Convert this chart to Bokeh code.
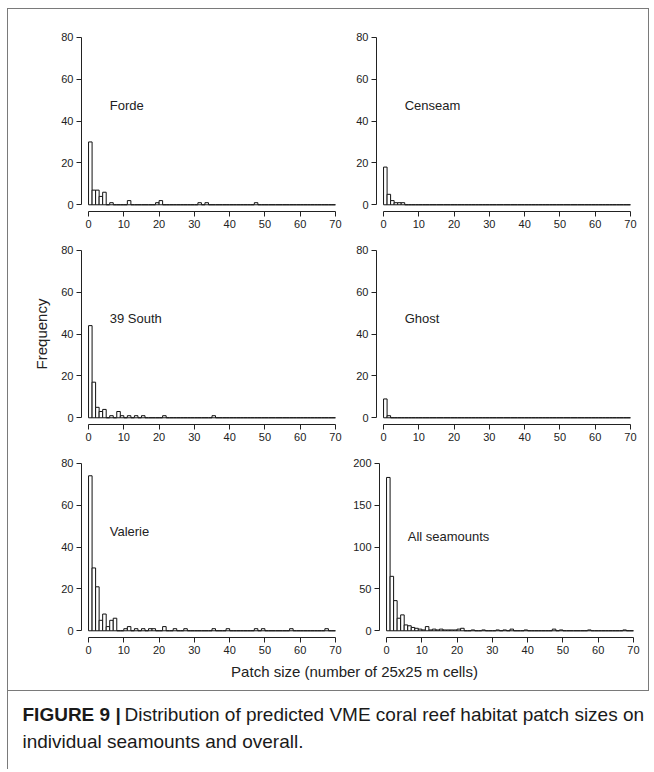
from bokeh.plotting import figure
from bokeh.layouts import column, row
from bokeh.models import Range1d, FixedTicker, Label
from bokeh.embed import file_html
from bokeh.resources import INLINE

# ---- data: patch size (cells) -> frequency, histogram breaks 0..70 step 1 ----
n_bins = 70
x_ticks = [0, 10, 20, 30, 40, 50, 60, 70]
y_ticks_80 = [0, 20, 40, 60, 80]
y_ticks_200 = [0, 50, 100, 150, 200]

forde_size = [1, 2, 3, 4, 5, 7, 12, 20, 21, 32, 34, 48]
forde_count = [30, 7, 7, 4, 6, 1, 2, 1, 2, 1, 1, 1]

censeam_size = [1, 2, 3, 4, 5, 6]
censeam_count = [18, 5, 2, 1, 1, 1]

south39_size = [1, 2, 3, 4, 5, 7, 9, 10, 12, 14, 16, 22, 36]
south39_count = [44, 17, 5, 3, 4, 1, 3, 1, 1, 1, 1, 1, 1]

ghost_size = [1, 2]
ghost_count = [9, 1]

valerie_size = [1, 2, 3, 4, 5, 6, 7, 8, 11, 12, 14, 16, 18, 19, 22, 25, 28,
                36, 40, 48, 50, 58, 68]
valerie_count = [74, 30, 21, 5, 8, 2, 5, 6, 1, 2, 1, 1, 1, 1, 2, 1, 1,
                 1, 1, 1, 1, 1, 1]

all_size = [1, 2, 3, 4, 5, 6, 7, 8, 9, 10, 11, 12, 13, 14, 15, 16, 17, 18,
            19, 20, 21, 22, 25, 28, 32, 34, 36, 40, 48, 50, 58, 68]
all_count = [183, 65, 36, 15, 19, 7, 6, 4, 3, 2, 1, 5, 1, 2, 1, 2, 1, 1,
             1, 1, 2, 3, 1, 1, 1, 1, 2, 1, 2, 1, 1, 1]

panel_names = ["Forde", "Censeam", "39 South", "Ghost", "Valerie", "All seamounts"]

FONT = "Liberation Sans"
INK = "#222222"
INNER_W = 637


def full_counts(sizes, counts):
    c = [0] * n_bins
    for s, n in zip(sizes, counts):
        c[s - 1] = n
    return c


def make_panel(name, sizes, counts, ymax, yticks, label_y, col, rowi, ylabel=None):
    pad = ymax * 0.04
    p = figure(frame_width=261, frame_height=181,
               x_range=Range1d(-2, 72), y_range=Range1d(-pad, ymax + pad),
               min_border_left=73 if col == 0 else 26,
               min_border_right=8,
               min_border_top=21 if rowi == 0 else 8,
               min_border_bottom=24,
               output_backend="svg", toolbar_location=None, tools="")
    p.grid.visible = False
    p.outline_line_color = None
    p.background_fill_color = "white"
    p.border_fill_color = "white"

    c = full_counts(sizes, counts)
    left = list(range(0, n_bins))
    right = list(range(1, n_bins + 1))
    p.quad(left=left, right=right, bottom=0, top=c,
           fill_color="white", line_color="#111111", line_width=1)

    for ax, ticks, bounds in ((p.xaxis, x_ticks, (0, 70)), (p.yaxis, yticks, (0, ymax))):
        ax.ticker = FixedTicker(ticks=ticks)
        ax.bounds = bounds
        ax.major_tick_in = 0
        ax.major_tick_out = 5
        ax.minor_tick_line_color = None
        ax.axis_line_color = INK
        ax.major_tick_line_color = INK
        ax.major_label_text_font = FONT
        ax.major_label_text_font_size = "11px"
        ax.major_label_text_color = INK
        ax.major_label_standoff = 3
    if ylabel:
        p.yaxis.axis_label = ylabel
        p.yaxis.axis_label_text_font = FONT
        p.yaxis.axis_label_text_font_size = "15px"
        p.yaxis.axis_label_text_font_style = "normal"
        p.yaxis.axis_label_text_color = INK
        p.yaxis.axis_label_standoff = 8

    p.add_layout(Label(x=6, y=label_y, text=name, text_font=FONT,
                       text_font_size="13px", text_color=INK,
                       text_align="left", text_baseline="middle"))
    return p


f1 = make_panel(panel_names[0], forde_size, forde_count, 80, y_ticks_80, 47.5, 0, 0)
f2 = make_panel(panel_names[1], censeam_size, censeam_count, 80, y_ticks_80, 47.5, 1, 0)
f3 = make_panel(panel_names[2], south39_size, south39_count, 80, y_ticks_80, 47.5, 0, 1,
                ylabel="Frequency")
f4 = make_panel(panel_names[3], ghost_size, ghost_count, 80, y_ticks_80, 47.5, 1, 1)
f5 = make_panel(panel_names[4], valerie_size, valerie_count, 80, y_ticks_80, 47.5, 0, 2)
f6 = make_panel(panel_names[5], all_size, all_count, 200, y_ticks_200, 112, 1, 2)


def text_strip(width, height):
    p = figure(width=width, height=height, x_range=Range1d(0, width),
               y_range=Range1d(height, 0), min_border=0,
               output_backend="svg", toolbar_location=None, tools="")
    p.axis.visible = False
    p.grid.visible = False
    p.outline_line_color = None
    p.background_fill_color = "white"
    p.border_fill_color = "white"
    return p


fx = text_strip(INNER_W, 29)
fx.add_layout(Label(x=346, y=10, text="Patch size (number of 25x25 m cells)",
                    text_font=FONT, text_font_size="15px", text_color=INK,
                    text_align="center", text_baseline="middle"))

cap = text_strip(INNER_W, 78)
cap.add_layout(Label(x=14, y=23, text="FIGURE 9 |", text_font=FONT,
                     text_font_size="19px", text_font_style="bold",
                     text_color="#1a1a1a", text_align="left", text_baseline="middle"))
cap.add_layout(Label(x=116, y=23,
                     text="Distribution of predicted VME coral reef habitat patch sizes on",
                     text_font=FONT, text_font_size="19px", text_color="#1a1a1a",
                     text_align="left", text_baseline="middle"))
cap.add_layout(Label(x=14, y=50, text="individual seamounts and overall.",
                     text_font=FONT, text_font_size="19px", text_color="#1a1a1a",
                     text_align="left", text_baseline="middle"))

BORDER = "1px solid #7a7a7a"
inner = column(row(f1, f2), row(f3, f4), row(f5, f6), fx,
               styles={"border-top": BORDER, "border-right": BORDER,
                       "border-bottom": BORDER})
page = column(inner, cap, margin=(8, 0, 0, 7), styles={"border-left": BORDER})

open("out.html", "w").write(file_html(page, INLINE))
